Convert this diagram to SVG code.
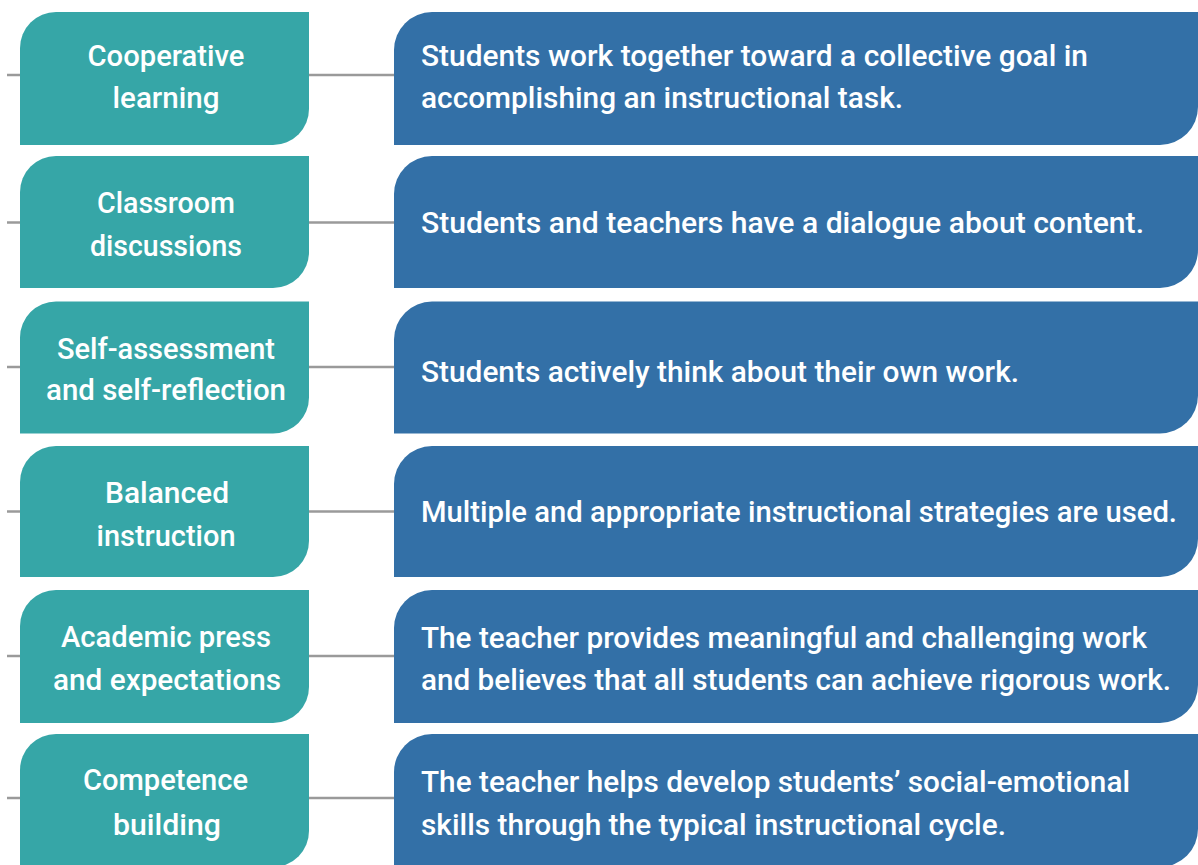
<svg xmlns="http://www.w3.org/2000/svg" width="1198" height="865" viewBox="0 0 1198 865">
<style>
.teal{fill:#36a6a7}
.blue{fill:#3370a7}
.conn{stroke:#9a9a9a;stroke-width:2.5;fill:none}
text{font-family:Roboto,"Liberation Sans",sans-serif;font-weight:500;font-size:30px;fill:#ffffff}
.c{text-anchor:middle}
</style>
<g id="connectors">
<path class="conn" d="M7 75H20M309 75H394"/>
<path class="conn" d="M7 222.5H20M309 222.5H394"/>
<path class="conn" d="M7 367H20M309 367H394"/>
<path class="conn" d="M7 511.5H20M309 511.5H394"/>
<path class="conn" d="M7 656H20M309 656H394"/>
<path class="conn" d="M7 798H20M309 798H394"/>
</g>
<g id="row1-label"><path class="teal" d="M20 48A36 36 0 0 1 56 12H309V109A36 36 0 0 1 273 145H20Z"/>
<text class="c" x="166" y="66" textLength="157" lengthAdjust="spacingAndGlyphs">Cooperative</text>
<text class="c" x="166" y="108" textLength="107" lengthAdjust="spacingAndGlyphs">learning</text></g>
<g id="row1-desc"><path class="blue" d="M394 50A38 38 0 0 1 432 12H1198V107A38 38 0 0 1 1160 145H394Z"/>
<text x="421" y="66" textLength="667" lengthAdjust="spacingAndGlyphs">Students work together toward a collective goal in</text>
<text x="421" y="108" textLength="482" lengthAdjust="spacingAndGlyphs">accomplishing an instructional task.</text></g>

<g id="row2-label"><path class="teal" d="M20 192A36 36 0 0 1 56 156H309V252A36 36 0 0 1 273 288H20Z"/>
<text class="c" x="166" y="212.5" textLength="138" lengthAdjust="spacingAndGlyphs">Classroom</text>
<text class="c" x="166" y="256" textLength="152" lengthAdjust="spacingAndGlyphs">discussions</text></g>
<g id="row2-desc"><path class="blue" d="M394 194A38 38 0 0 1 432 156H1198V250A38 38 0 0 1 1160 288H394Z"/>
<text x="421" y="233" textLength="723" lengthAdjust="spacingAndGlyphs">Students and teachers have a dialogue about content.</text></g>

<g id="row3-label"><path class="teal" d="M20 337.5A36 36 0 0 1 56 301.5H309V397.5A36 36 0 0 1 273 433.5H20Z"/>
<text class="c" x="166" y="359" textLength="218" lengthAdjust="spacingAndGlyphs">Self-assessment</text>
<text class="c" x="166" y="400" textLength="240" lengthAdjust="spacingAndGlyphs">and self-reflection</text></g>
<g id="row3-desc"><path class="blue" d="M394 339.5A38 38 0 0 1 432 301.5H1198V395.5A38 38 0 0 1 1160 433.5H394Z"/>
<text x="421" y="382" textLength="598" lengthAdjust="spacingAndGlyphs">Students actively think about their own work.</text></g>

<g id="row4-label"><path class="teal" d="M20 482A36 36 0 0 1 56 446H309V541A36 36 0 0 1 273 577H20Z"/>
<text class="c" x="167" y="502.5" textLength="124" lengthAdjust="spacingAndGlyphs">Balanced</text>
<text class="c" x="166" y="546" textLength="139" lengthAdjust="spacingAndGlyphs">instruction</text></g>
<g id="row4-desc"><path class="blue" d="M394 484A38 38 0 0 1 432 446H1198V539A38 38 0 0 1 1160 577H394Z"/>
<text x="421" y="522" textLength="756" lengthAdjust="spacingAndGlyphs">Multiple and appropriate instructional strategies are used.</text></g>

<g id="row5-label"><path class="teal" d="M20 626A36 36 0 0 1 56 590H309V687A36 36 0 0 1 273 723H20Z"/>
<text class="c" x="166" y="646.5" textLength="210" lengthAdjust="spacingAndGlyphs">Academic press</text>
<text class="c" x="167" y="690" textLength="228" lengthAdjust="spacingAndGlyphs">and expectations</text></g>
<g id="row5-desc"><path class="blue" d="M394 628A38 38 0 0 1 432 590H1198V685A38 38 0 0 1 1160 723H394Z"/>
<text x="421" y="648" textLength="726" lengthAdjust="spacingAndGlyphs">The teacher provides meaningful and challenging work</text>
<text x="421" y="690" textLength="750" lengthAdjust="spacingAndGlyphs">and believes that all students can achieve rigorous work.</text></g>

<g id="row6-label"><path class="teal" d="M20 770A36 36 0 0 1 56 734H309V831A36 36 0 0 1 273 867H20Z"/>
<text class="c" x="165.5" y="790" textLength="165" lengthAdjust="spacingAndGlyphs">Competence</text>
<text class="c" x="167" y="835" textLength="108" lengthAdjust="spacingAndGlyphs">building</text></g>
<g id="row6-desc"><path class="blue" d="M394 772A38 38 0 0 1 432 734H1198V829A38 38 0 0 1 1160 867H394Z"/>
<text x="421" y="792" textLength="709" lengthAdjust="spacingAndGlyphs">The teacher helps develop students’ social-emotional</text>
<text x="421" y="835" textLength="585" lengthAdjust="spacingAndGlyphs">skills through the typical instructional cycle.</text></g>
</svg>
